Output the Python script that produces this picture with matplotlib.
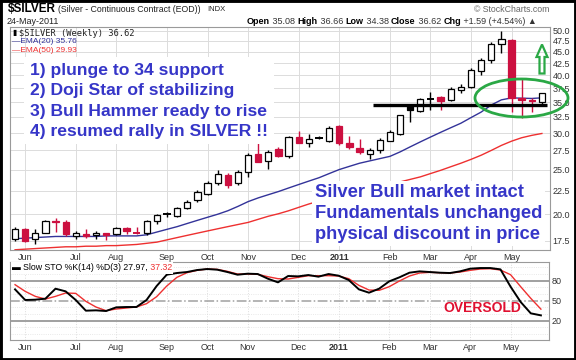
import numpy as np
import matplotlib
matplotlib.use('Agg')
import matplotlib.pyplot as plt
from matplotlib.patches import Ellipse, Polygon, Rectangle
from matplotlib.ticker import NullLocator

plt.rcParams['font.family'] = ['Liberation Sans', 'DejaVu Sans']

#%% Data (weekly, late May 2010 - 24 May 2011)
opens = [17.7, 18.6, 17.65, 18.25, 19.35, 19.2, 17.9, 18.1, 18.0, 18.2,
         18.1, 18.7, 18.2, 18.2, 19.3, 19.95, 19.8, 20.6, 21.45, 22.1,
         23.4, 24.3, 23.4, 24.7, 27.0, 26.1, 27.7, 26.7, 29.4, 28.6,
         29.35, 28.9, 31.0, 28.5, 27.9, 27.0, 27.6, 28.9, 29.8, 34.4,
         33.5, 35.6, 35.9, 35.4, 37.2, 37.8, 40.9, 43.1, 46.7, 47.8,
         35.7, 35.4, 35.08]
highs = [18.75, 18.7, 18.6, 19.4, 19.6, 19.4, 18.35, 18.6, 18.4, 18.25,
         18.8, 18.75, 18.75, 19.45, 20.0, 20.2, 20.7, 21.5, 22.6, 23.6,
         24.9, 24.6, 24.95, 27.1, 28.6, 27.6, 28.0, 29.6, 30.3, 29.8,
         29.6, 31.0, 31.2, 29.6, 29.1, 27.9, 29.2, 30.5, 32.9, 34.5,
         35.8, 36.9, 36.1, 37.7, 38.4, 41.4, 43.7, 47.3, 49.8, 47.9,
         39.3, 35.7, 36.66]
lows = [17.5, 17.4, 17.25, 18.2, 18.3, 17.9, 17.7, 17.8, 17.7, 17.6,
        18.05, 18.1, 18.1, 18.0, 19.05, 19.7, 19.75, 20.5, 21.3, 22.0,
        23.1, 22.8, 23.1, 24.1, 25.9, 25.1, 26.6, 26.5, 28.5, 28.0,
        29.1, 28.7, 28.3, 27.7, 27.0, 26.4, 27.2, 28.8, 29.7, 31.7,
        33.4, 33.7, 33.7, 35.2, 36.7, 37.6, 40.1, 42.5, 44.8, 33.3,
        32.3, 33.3, 34.38]
closes = [18.55, 17.5, 18.2, 19.3, 19.25, 18.1, 18.25, 17.9, 18.2, 18.05,
          18.65, 18.35, 18.15, 19.3, 19.9, 20.0, 20.6, 21.3, 22.3, 23.4,
          24.5, 23.2, 24.7, 26.9, 26.0, 27.3, 26.7, 29.4, 28.6, 29.1,
          29.3, 30.8, 28.6, 28.0, 27.3, 27.6, 29.0, 30.1, 32.8, 33.6,
          35.5, 35.65, 35.2, 37.4, 37.8, 41.1, 43.2, 46.9, 48.0, 35.8,
          35.3, 35.2, 36.62]
ema20 = [17.7, 17.75, 17.8, 17.85, 17.9, 17.9, 17.9, 17.9, 17.9, 17.95,
         17.95, 17.95, 17.95, 18.05, 18.3, 18.55, 18.8, 19.1, 19.4, 19.7,
         20.0, 20.35, 20.8, 21.3, 21.7, 22.05, 22.4, 22.8, 23.2, 23.6,
         24.0, 24.5, 25.0, 25.4, 25.8, 26.1, 26.4, 26.7, 27.3, 28.0,
         28.7, 29.4, 30.1, 30.8, 31.5, 32.4, 33.3, 34.5, 35.4, 35.75,
         35.7, 35.65, 35.76]
ema50 = [16.75, 16.8, 16.85, 16.9, 16.95, 17.0, 17.0, 17.05, 17.05, 17.1,
         17.1, 17.15, 17.2, 17.3, 17.4, 17.6, 17.8, 18.0, 18.2, 18.4,
         18.6, 18.8, 19.0, 19.2, 19.5, 19.8, 20.05, 20.35, 20.7, 21.05,
         21.35, 21.65, 21.95, 22.2, 22.45, 22.7, 22.95, 23.2, 23.5, 23.8,
         24.1, 24.5, 24.9, 25.35, 25.8, 26.3, 26.85, 27.5, 28.2, 28.8,
         29.3, 29.65, 29.93]
sto_k = [67, 51, 51.5, 53, 68, 64, 51, 35, 35.5, 34.5,
         40, 40.5, 40.5, 51, 72, 89, 91.5, 93, 96, 97.5,
         96.5, 93, 89, 90.5, 90, 83, 77.5, 87, 86.5, 88.5,
         86, 90, 87.5, 81, 67, 62, 68, 79, 85, 92,
         94, 93, 92, 91.5, 94, 98, 99, 99, 97, 71,
         48, 31, 27.97]
sto_d = [74, 64, 56.5, 52.5, 56.5, 61.5, 61, 49, 40.5, 35,
         37.5, 39, 40.5, 45.5, 56, 72, 85, 92, 95.5, 97.5,
         97, 94, 90, 90, 89.5, 86, 83, 82.5, 85, 87.5,
         87.5, 87.5, 87, 83, 73, 66, 65.5, 71, 79.5, 87,
         91.5, 92.5, 92, 91.5, 93, 95.5, 97.5, 98, 96, 89,
         71, 53.5, 37.32]

month_idx = [1, 6, 10, 15, 19, 23, 28, 32, 37, 41, 45, 49]
month_lbl = ['Jun', 'Jul', 'Aug', 'Sep', 'Oct', 'Nov', 'Dec', '2011',
             'Feb', 'Mar', 'Apr', 'May']
price_ticks = [17.5, 20.0, 22.5, 25.0, 27.5, 30.0, 32.5, 35.0, 37.5,
               40.0, 42.5, 45.0, 47.5, 50.0]
sto_ticks = [20, 50, 80]
support_level = 34.45
support_weeks = (35.3, 52.5)

notes_top = ['1) plunge to 34 support', '2) Doji Star of stabilizing',
             '3) Bull Hammer ready to rise', '4) resumed rally in SILVER !!']
notes_bottom = ['Silver Bull market intact', 'Fundamentals unchanged',
                'physical discount in price']

#%% Styles
W, H = 576, 360
RED = '#cc1040'
NAVY = '#333399'
EMA_RED = '#ee3030'
GRID = '#dcdcdc'
SPINE = '#9a9a9a'
TXT_BLUE = '#3636c8'
GREEN = '#2aa845'


def fx(x):
    return x / W


def fy(y):
    return 1 - y / H


fig = plt.figure(figsize=(W / 100, H / 100), dpi=100)
ax = fig.add_axes([fx(10), fy(250), 540 / W, 223 / H])
ax2 = fig.add_axes([fx(10), fy(340), 539 / W, 77.7 / H])

idx = np.arange(len(closes))

#%% Price panel
ax.set_yscale('log')
ax.set_ylim(16.73, 50.93)
ax.set_xlim(-0.5, 52.8)

for i in idx:
    o, h, l, c = opens[i], highs[i], lows[i], closes[i]
    col = RED if (i > 0 and c < closes[i - 1]) else 'black'
    ax.vlines(i, l, h, color=col, lw=1.0, zorder=3)
    lo, hi = min(o, c), max(o, c)
    if hi - lo < 0.08:
        ax.hlines((o + c) / 2, i - 0.35, i + 0.35, color=col, lw=1.4, zorder=4)
    else:
        face = 'white' if c > o else col
        ax.bar(i, hi - lo, bottom=lo, width=0.62, facecolor=face,
               edgecolor=col, lw=0.9, zorder=4)

ax.plot(idx, ema20, color=NAVY, lw=1.0, zorder=2)
ax.plot(idx, ema50, color=EMA_RED, lw=1.0, zorder=2)
ax.hlines(support_level, *support_weeks, color='black', lw=2.4, zorder=5)

ax.yaxis.tick_right()
ax.yaxis.set_minor_locator(NullLocator())
ax.set_yticks(price_ticks)
ax.set_yticklabels(['%.1f' % t for t in price_ticks])
ax.set_xticks(month_idx)
ax.set_xticklabels(month_lbl)
ax.tick_params(axis='both', labelsize=6.5, colors='#333333', length=0, pad=2)
ax.tick_params(axis='y', pad=2)
ax.grid(True, color=GRID, lw=0.7)
ax.set_axisbelow(True)
for s in ax.spines.values():
    s.set_color(SPINE)
ax.get_xticklabels()[7].set_fontweight('bold')

#%% Stochastic panel
ax2.set_xlim(-0.5, 52.8)
ax2.set_ylim(-9, 107.6)
for v in range(0, 101, 10):
    if v not in sto_ticks:
        ax2.axhline(v, color='#e2e2e2', lw=0.6, ls=':', zorder=0)
for m in month_idx:
    ax2.axvline(m, color=GRID, lw=0.7, ls=':', zorder=0)
ax2.axhline(80, color='#a0a0a0', lw=1.4, zorder=1)
ax2.axhline(20, color='#a0a0a0', lw=1.4, zorder=1)
ax2.axhline(50, color='#a0a0a0', lw=1.1, ls='-.', zorder=1)
ax2.plot(idx, sto_d, color=EMA_RED, lw=1.0, zorder=3)
ax2.plot(idx, sto_k, color='black', lw=1.4, zorder=3)
ax2.yaxis.tick_right()
ax2.set_yticks(sto_ticks)
ax2.set_yticklabels([str(t) for t in sto_ticks])
ax2.set_xticks(month_idx)
ax2.set_xticklabels(month_lbl)
ax2.tick_params(axis='both', labelsize=6.5, colors='#333333', length=0, pad=2)
ax2.tick_params(axis='y', pad=2)
for s in ax2.spines.values():
    s.set_color(SPINE)
ax2.get_xticklabels()[7].set_fontweight('bold')


#%% Header texts
def chain(host, parts, x, y, size, bbox=None, family=None):
    prev = None
    for txt, bold, color in parts:
        kw = dict(fontsize=size, color=color,
                  fontweight='bold' if bold else 'normal')
        if bbox:
            kw['bbox'] = bbox
        if family:
            kw['family'] = family
        if prev is None:
            prev = fig.text(fx(x), fy(y), txt, va='center', ha='left', **kw)
        else:
            prev = host.annotate(txt, xy=(1, 0), xycoords=prev, va='bottom',
                                 ha='left', annotation_clip=False, zorder=8, **kw)
    return prev


fig.text(fx(8), fy(9.5), '$SILVER', fontsize=8.5, fontweight='bold', va='center')
fig.text(fx(58), fy(9.5), '(Silver - Continuous Contract (EOD))', fontsize=6.3,
         va='center', color='#222222',
         family=['Liberation Sans Narrow', 'Liberation Sans'])
fig.text(fx(207), fy(9.8), 'INDX', fontsize=5.5, va='center', color='#222222')
fig.text(fx(7), fy(21.5), '24-May-2011', fontsize=6.5, va='center', color='#222222')
fig.text(fx(549), fy(9), '\u00a9 StockCharts.com', fontsize=6.3, va='center',
         ha='right', color='#666666')
chain(ax, [('Open', True, 'black'), (' 35.08 ', False, '#333333'),
           ('High', True, 'black'), (' 36.66 ', False, '#333333'),
           ('Low', True, 'black'), (' 34.38 ', False, '#333333'),
           ('Close', True, 'black'), (' 36.62 ', False, '#333333'),
           ('Chg', True, 'black'), (' +1.59 (+4.54%) \u25b2', False, '#333333')],
      247, 21.5, 6.5)

# price panel legend
fig.text(fx(12), fy(33), '\u25ae', fontsize=5.5, va='center', color='black')
fig.text(fx(19), fy(33), '$SILVER (Weekly) 36.62', fontsize=6.3, va='center',
         family='DejaVu Sans Mono', color='#222222')
fig.text(fx(12), fy(41.5), '\u2014EMA(20) 35.76', fontsize=6, va='center', color=NAVY)
fig.text(fx(12), fy(50.5), '\u2014EMA(50) 29.93', fontsize=6, va='center', color=EMA_RED)

# stochastic legend
chain(ax2, [('\u25ac Slow STO %K(14) %D(3) 27.97,', False, 'black'),
            (' 37.32', False, EMA_RED)], 12, 268, 6.3,
      bbox=dict(facecolor='white', edgecolor='none', pad=1.0))

#%% Annotations
fig.text(fx(30), fy(63), '\n'.join(notes_top), fontsize=12.6, fontweight='bold',
         color=TXT_BLUE, va='top', ha='left', linespacing=1.44,
         bbox=dict(facecolor='white', edgecolor='none', pad=4), zorder=6)
fig.text(fx(315), fy(184), '\n'.join(notes_bottom), fontsize=13.2,
         fontweight='bold', color=TXT_BLUE, va='top', ha='left',
         linespacing=1.31, bbox=dict(facecolor='white', edgecolor='none', pad=2),
         zorder=6)
fig.text(fx(443), fy(308), 'OVERSOLD', fontsize=10, fontweight='bold',
         color='#e01030', va='center', ha='left')

fig.patches.append(Ellipse((fx(521.5), fy(98)), 93 / W, 38 / H,
                           transform=fig.transFigure, fill=False,
                           edgecolor=GREEN, lw=2.0, zorder=10))
arrow_px = [(542, 44.5), (536.5, 57), (539.5, 57), (539.5, 73.5),
            (544.5, 73.5), (544.5, 57), (547.5, 57)]
fig.patches.append(Polygon([(fx(a), fy(b)) for a, b in arrow_px], closed=True,
                           transform=fig.transFigure, fill=False,
                           edgecolor=GREEN, lw=1.6, zorder=10))
fig.patches.append(Rectangle((0, 0), 1, 1, transform=fig.transFigure,
                             fill=False, edgecolor='black', lw=3.5))

fig.savefig('out.png', dpi=100)
